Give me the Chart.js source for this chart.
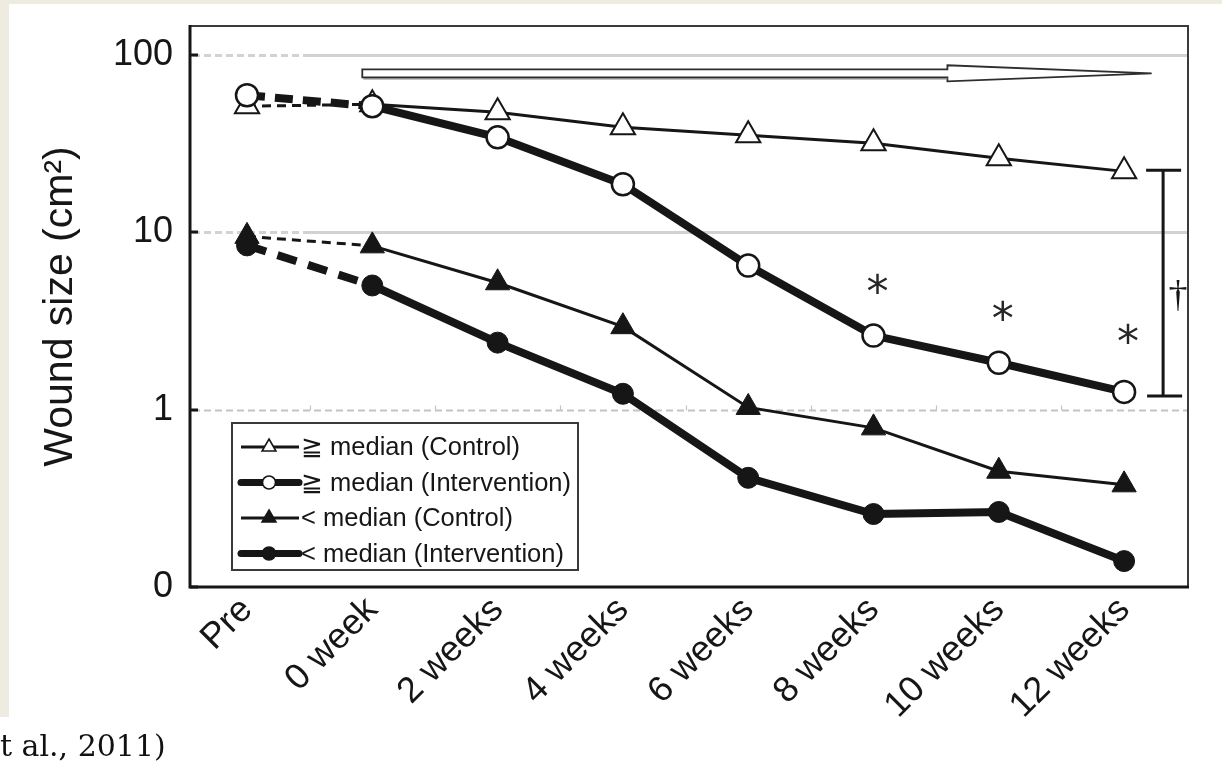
<!DOCTYPE html>
<html>
<head>
<meta charset="utf-8">
<script src="https://cdn.jsdelivr.net/npm/chart.js@4/dist/chart.umd.min.js"></script>
<style>
  html, body { margin: 0; padding: 0; background: #ffffff; }
  #wrap { position: relative; width: 1222px; height: 771px; overflow: hidden; background: #ffffff; }
  .band-left { position: absolute; left: 0; top: 0; width: 9px; height: 717px; background: #eeece1; }
  .band-top { position: absolute; left: 0; top: 0; width: 1222px; height: 4px; background: #eeece1; }
  #chart { position: absolute; left: 0; top: 0; }
  #cite { position: absolute; left: 0; top: 731px; font-family: "DejaVu Serif", "Liberation Serif", serif;
          font-size: 30px; line-height: 1; color: #111; white-space: nowrap; }
</style>
</head>
<body>
<div id="wrap">
  <div class="band-left"></div>
  <div class="band-top"></div>
  <canvas id="chart" width="1222" height="771"></canvas>
  <div id="cite">t al., 2011)</div>
</div>
<script>
// Time points on the x axis
const timepoints = ['Pre', '0 week', '2 weeks', '4 weeks', '6 weeks', '8 weeks', '10 weeks', '12 weeks'];

// Mean wound size (cm²) per group
const controlAbove      = [51.5, 52.8, 47.6, 39.2, 35.3, 31.8, 26.2, 22.1];
const interventionAbove = [59.4, 51.5, 34.4, 18.7, 6.5, 2.62, 1.84, 1.26];
const controlBelow      = [9.5, 8.4, 5.2, 2.94, 1.03, 0.79, 0.45, 0.377];
const interventionBelow = [8.45, 5.02, 2.39, 1.23, 0.413, 0.258, 0.265, 0.14];

const seriesLabels = ['≧ median (Control)', '≧ median (Intervention)', '< median (Control)', '< median (Intervention)'];

// Log axis ticks; the bottom of the axis (0.1) is labelled "0"
const yTickValues = [0.1, 1, 10, 100];
const yTickLabels = ['0', '1', '10', '100'];

// Significance markers
const starPoints = [5, 6, 7];
const starLabel = '*';
const bracketLabel = '†';

const FONT = '"Liberation Sans", Arial, Helvetica, sans-serif';
const INK = '#161616';

const asPoints = values => values.map((v, i) => ({ x: i, y: v }));
const firstSegmentDash = dash => ctx => (ctx.p0DataIndex === 0 ? dash : undefined);

const datasets = [
  {
    label: seriesLabels[0], data: asPoints(controlAbove), order: 4,
    borderColor: INK, borderWidth: 3, pointStyle: 'triangle', pointRadius: 14,
    pointBackgroundColor: '#ffffff', pointBorderColor: INK, pointBorderWidth: 2,
    segment: { borderDash: firstSegmentDash([9, 6]) }
  },
  {
    label: seriesLabels[1], data: asPoints(interventionAbove), order: 1,
    borderColor: INK, borderWidth: 8, pointStyle: 'circle', pointRadius: 11,
    pointBackgroundColor: '#ffffff', pointBorderColor: INK, pointBorderWidth: 2.5,
    segment: { borderDash: firstSegmentDash([18, 10]) }
  },
  {
    label: seriesLabels[2], data: asPoints(controlBelow), order: 3,
    borderColor: INK, borderWidth: 3, pointStyle: 'triangle', pointRadius: 14,
    pointBackgroundColor: INK, pointBorderColor: INK, pointBorderWidth: 1,
    segment: { borderDash: firstSegmentDash([9, 6]) }
  },
  {
    label: seriesLabels[3], data: asPoints(interventionBelow), order: 2,
    borderColor: INK, borderWidth: 8, pointStyle: 'circle', pointRadius: 10.5,
    pointBackgroundColor: INK, pointBorderColor: INK, pointBorderWidth: 1,
    segment: { borderDash: firstSegmentDash([20, 12]) }
  }
];

// Grid lines, frame and axis ticks behind the data
const framePlugin = {
  id: 'frame',
  beforeDatasetsDraw(chart) {
    const { ctx, chartArea: a, scales: { x, y } } = chart;
    ctx.save();
    // solid light grid at 10 and 100, dashed at the start
    [10, 100].forEach(v => {
      const py = Math.round(y.getPixelForValue(v)) + 0.5;
      ctx.strokeStyle = '#d2d2d2';
      ctx.lineWidth = 3;
      ctx.setLineDash([7, 4]);
      ctx.beginPath(); ctx.moveTo(a.left + 3, py); ctx.lineTo(a.left + 118, py); ctx.stroke();
      ctx.setLineDash([]);
      ctx.beginPath(); ctx.moveTo(a.left + 118, py); ctx.lineTo(a.right, py); ctx.stroke();
    });
    // dashed grid at 1 with small marks between time points
    const p1 = Math.round(y.getPixelForValue(1)) + 0.5;
    ctx.strokeStyle = '#c4c4c4';
    ctx.lineWidth = 2;
    ctx.setLineDash([7, 4]);
    ctx.beginPath(); ctx.moveTo(a.left + 3, p1); ctx.lineTo(a.right, p1); ctx.stroke();
    ctx.setLineDash([]);
    ctx.lineWidth = 1.2;
    for (let i = 0; i < timepoints.length - 1; i++) {
      const px = Math.round(x.getPixelForValue(i + 0.5)) + 0.5;
      ctx.beginPath(); ctx.moveTo(px, p1); ctx.lineTo(px, p1 - 5); ctx.stroke();
    }
    // frame
    ctx.strokeStyle = '#3a3a3a';
    ctx.lineWidth = 2;
    ctx.beginPath();
    ctx.moveTo(a.left, a.top); ctx.lineTo(a.right, a.top); ctx.lineTo(a.right, a.bottom);
    ctx.stroke();
    ctx.strokeStyle = INK;
    ctx.lineWidth = 3;
    ctx.beginPath();
    ctx.moveTo(a.left, a.top - 1); ctx.lineTo(a.left, a.bottom); ctx.lineTo(a.right + 1, a.bottom);
    ctx.stroke();
    // short inward ticks on the value axis
    yTickValues.forEach(v => {
      const py = Math.round(y.getPixelForValue(v));
      ctx.beginPath(); ctx.moveTo(a.left, py); ctx.lineTo(a.left + 8, py); ctx.stroke();
    });
    ctx.restore();
  }
};

function drawMarker(ctx, style, r, cx, cy, fill, lw) {
  ctx.beginPath();
  if (style === 'triangle') {
    for (let k = 0; k < 3; k++) {
      const ang = k * 2 * Math.PI / 3;
      const px = cx + Math.sin(ang) * r, py = cy - Math.cos(ang) * r;
      k === 0 ? ctx.moveTo(px, py) : ctx.lineTo(px, py);
    }
    ctx.closePath();
  } else {
    ctx.arc(cx, cy, r, 0, Math.PI * 2);
  }
  ctx.fillStyle = fill;
  ctx.fill();
  ctx.lineWidth = lw;
  ctx.strokeStyle = INK;
  ctx.stroke();
}

function centeredText(ctx, text, cx, cy) {
  const m = ctx.measureText(text);
  const w = m.actualBoundingBoxLeft + m.actualBoundingBoxRight;
  const h = m.actualBoundingBoxAscent + m.actualBoundingBoxDescent;
  ctx.fillText(text, cx - w / 2 + m.actualBoundingBoxLeft, cy + h / 2 - m.actualBoundingBoxDescent);
}

// Arrow, significance marks and legend drawn over the data
const notesPlugin = {
  id: 'notes',
  afterDatasetsDraw(chart) {
    const { ctx, chartArea: a, scales: { x, y } } = chart;
    ctx.save();

    // hollow arrow spanning the treatment period
    const ay = y.getPixelForValue(79);
    const x0 = x.getPixelForValue(0.92), xh = x.getPixelForValue(5.59), xt = x.getPixelForValue(7.22);
    ctx.beginPath();
    ctx.moveTo(x0, ay - 4); ctx.lineTo(xh, ay - 4); ctx.lineTo(xh, ay - 8);
    ctx.lineTo(xt, ay); ctx.lineTo(xh, ay + 8); ctx.lineTo(xh, ay + 4); ctx.lineTo(x0, ay + 4);
    ctx.closePath();
    ctx.fillStyle = '#ffffff';
    ctx.fill();
    ctx.strokeStyle = '#2e2e2e';
    ctx.lineWidth = 1.8;
    ctx.stroke();
    ctx.strokeStyle = '#8a8a8a';
    ctx.lineWidth = 1.5;
    ctx.beginPath(); ctx.moveTo(x0 + 1, ay + 5.5); ctx.lineTo(xh, ay + 5.5); ctx.stroke();

    // asterisks above the intervention curve
    ctx.fillStyle = '#262626';
    ctx.font = '44px "DejaVu Sans", sans-serif';
    const starOffsets = [-52, -52, -58];
    starPoints.forEach((i, k) => {
      const px = x.getPixelForValue(i) + 4;
      const py = y.getPixelForValue(interventionAbove[i]) + starOffsets[k];
      centeredText(ctx, starLabel, px, py);
    });

    // bracket between the two ≧ median groups at 12 weeks
    const bx = x.getPixelForValue(7) + 39;
    const bt = y.getPixelForValue(controlAbove[7]) - 1;
    const bb = y.getPixelForValue(interventionAbove[7]) + 4;
    ctx.strokeStyle = INK;
    ctx.lineWidth = 3;
    ctx.beginPath();
    ctx.moveTo(bx - 17, bt); ctx.lineTo(bx + 18, bt);
    ctx.moveTo(bx, bt); ctx.lineTo(bx, bb);
    ctx.moveTo(bx - 16, bb); ctx.lineTo(bx + 19, bb);
    ctx.stroke();
    ctx.fillStyle = INK;
    ctx.font = '38px "Liberation Serif", "DejaVu Serif", serif';
    centeredText(ctx, bracketLabel, bx + 15, (bt + bb) / 2 + 12);

    // legend
    const lx = a.left + 42, ly = a.top + 397, lw = 346, lh = 147;
    ctx.fillStyle = '#ffffff';
    ctx.fillRect(lx, ly, lw, lh);
    ctx.strokeStyle = '#3a3a3a';
    ctx.lineWidth = 2;
    ctx.strokeRect(lx, ly, lw, lh);
    const markerSizes = [8, 6.5, 8, 6.5];
    chart.data.datasets.forEach((ds, i) => {
      const ry = ly + 24 + i * 35.5;
      const thick = ds.borderWidth > 4;
      ctx.strokeStyle = INK;
      ctx.lineWidth = thick ? 7 : 3;
      ctx.lineCap = thick ? 'round' : 'butt';
      ctx.beginPath(); ctx.moveTo(lx + 9, ry); ctx.lineTo(lx + 67, ry); ctx.stroke();
      ctx.lineCap = 'butt';
      drawMarker(ctx, ds.pointStyle, markerSizes[i], lx + 37, ry, ds.pointBackgroundColor, 1.6);
      ctx.fillStyle = INK;
      ctx.font = '25.5px ' + FONT;
      ctx.textBaseline = 'middle';
      ctx.textAlign = 'left';
      ctx.fillText(ds.label, lx + 69, ry + 1);
    });
    ctx.restore();
  }
};

new Chart(document.getElementById('chart'), {
  type: 'line',
  data: { datasets },
  options: {
    responsive: false,
    animation: false,
    devicePixelRatio: 1,
    layout: { padding: { left: 0, top: 26, right: 34, bottom: 0 } },
    elements: { line: { tension: 0 } },
    plugins: { legend: { display: false }, tooltip: { enabled: false } },
    scales: {
      x: {
        type: 'linear',
        min: -0.455,
        max: 7.51,
        afterBuildTicks: s => { s.ticks = timepoints.map((_, i) => ({ value: i })); },
        afterFit: s => { s.height = 184; s.paddingLeft = 0; s.paddingRight = 0; },
        grid: { display: false, drawTicks: false },
        border: { display: false },
        ticks: {
          autoSkip: false, minRotation: 45, maxRotation: 45, padding: 2,
          color: INK, font: { family: FONT, size: 36 },
          callback: v => timepoints[v]
        }
      },
      y: {
        type: 'logarithmic',
        min: 0.1,
        max: 146,
        afterBuildTicks: s => { s.ticks = yTickValues.map(v => ({ value: v })); },
        afterFit: s => { s.width = 190; s.paddingTop = 0; s.paddingBottom = 0; },
        grid: { display: false, drawTicks: false },
        border: { display: false },
        ticks: {
          padding: 17, color: INK, font: { family: FONT, size: 36 },
          callback: (v, i) => yTickLabels[i]
        },
        title: {
          display: true, text: 'Wound size (cm²)', color: INK,
          font: { family: FONT, size: 41 }, padding: { top: 36, bottom: 0 }
        }
      }
    }
  },
  plugins: [framePlugin, notesPlugin]
});
</script>
</body>
</html>
